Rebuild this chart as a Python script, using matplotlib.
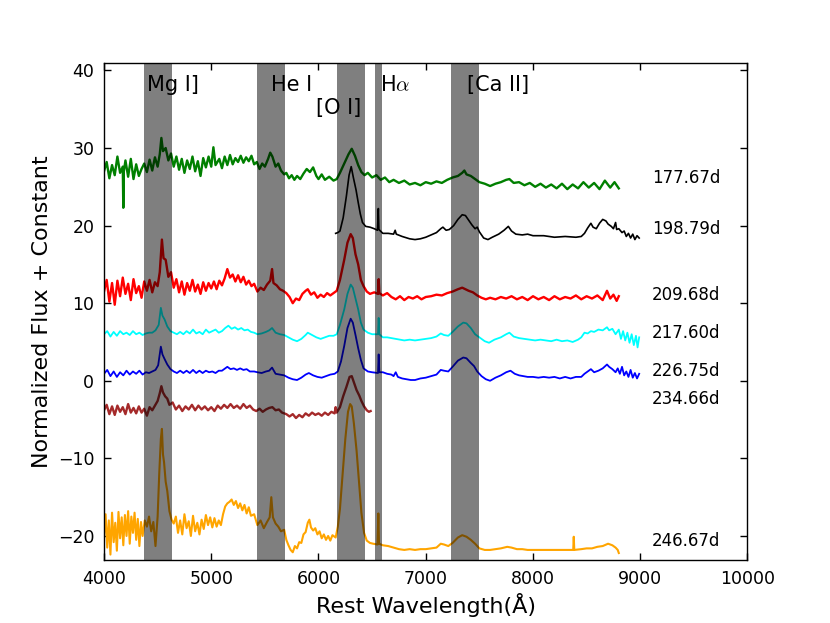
import numpy as np
import matplotlib
matplotlib.use('Agg')
import matplotlib.pyplot as plt

plt.rcParams['mathtext.fontset'] = 'cm'

# spectra (rest wavelength in A, normalized flux + offset)
w177 = [4000, 4025, 4050, 4075, 4100, 4125, 4150, 4175, 4180, 4185, 4200, 4225, 4250, 4275, 4300, 4325, 4350, 4375,
        4400, 4425, 4450, 4475, 4500, 4520, 4535, 4550, 4575, 4600, 4625, 4650, 4675, 4700, 4725, 4750, 4775, 4800,
        4825, 4850, 4875, 4900, 4925, 4950, 4975, 5000, 5020, 5040, 5075, 5100, 5125, 5150, 5175, 5200, 5225, 5250,
        5275, 5300, 5325, 5350, 5375, 5400, 5425, 5450, 5475, 5500, 5530, 5550, 5570, 5600, 5625, 5650, 5680, 5700,
        5725, 5750, 5775, 5800, 5830, 5860, 5890, 5920, 5950, 5980, 6000, 6030, 6060, 6100, 6140, 6170, 6200, 6240,
        6280, 6310, 6340, 6370, 6400, 6430, 6460, 6500, 6540, 6580, 6620, 6660, 6700, 6750, 6800, 6850, 6900, 6950,
        7000, 7050, 7100, 7150, 7200, 7250, 7300, 7340, 7360, 7380, 7420, 7460, 7500, 7550, 7600, 7650, 7700, 7750,
        7780, 7820, 7870, 7920, 7970, 8020, 8070, 8120, 8170, 8220, 8270, 8320, 8370, 8420, 8470, 8520, 8570, 8620,
        8670, 8720, 8760, 8800]
f177 = [27.0, 28.2, 26.1, 27.8, 26.5, 28.9, 26.8, 27.6, 22.3, 27.0, 28.4, 26.3, 28.6, 26.0, 27.9, 26.4, 27.3, 28.0,
        26.9, 28.5, 27.1, 28.8, 27.6, 29.2, 31.3, 29.6, 30.0, 28.4, 29.3, 27.6, 28.9, 27.2, 28.6, 26.8, 28.4, 27.3,
        28.9, 27.0, 28.3, 26.4, 28.7, 27.5, 28.9, 27.6, 30.1, 27.8, 28.6, 27.4, 28.9, 27.8, 29.1, 27.9, 28.7, 28.2,
        29.0, 28.1, 28.8, 28.3, 29.0, 27.9, 28.2, 27.3, 28.0, 27.6, 28.6, 29.4, 28.9, 27.6, 28.0, 27.1, 26.6, 26.8,
        26.1, 26.5, 25.9, 26.4, 26.0, 26.7, 27.3, 26.9, 27.5, 26.4, 26.0, 26.6, 25.9, 26.3, 25.8, 26.0, 26.8, 28.0,
        29.2, 29.9, 29.0, 27.8, 26.9, 26.5, 26.8, 26.2, 26.5, 25.9, 26.2, 25.6, 25.9, 25.5, 25.8, 25.3, 25.5, 25.2,
        25.6, 25.4, 25.7, 25.5, 25.9, 26.2, 26.4, 26.8, 27.1, 26.6, 26.4, 26.0, 25.6, 25.4, 25.1, 25.4, 25.6, 25.9,
        26.0, 25.5, 25.6, 25.2, 25.5, 25.0, 25.4, 24.9, 25.3, 24.8, 25.4, 24.7, 25.3, 24.8, 25.6, 24.9, 25.5, 24.7,
        25.8, 24.9, 25.6, 24.8]

w198 = [6160, 6180, 6200, 6230, 6260, 6285, 6305, 6325, 6350, 6370, 6390, 6410, 6440, 6480, 6520, 6550, 6558, 6563,
        6600, 6650, 6700, 6715, 6725, 6780, 6850, 6900, 6950, 7000, 7050, 7100, 7140, 7160, 7190, 7220, 7260, 7300,
        7340, 7370, 7400, 7430, 7460, 7480, 7500, 7540, 7580, 7620, 7680, 7730, 7770, 7800, 7840, 7900, 7950, 8000,
        8100, 8200, 8300, 8400, 8450, 8480, 8510, 8540, 8560, 8590, 8620, 8650, 8680, 8700, 8730, 8750, 8770, 8780,
        8800, 8830, 8850, 8870, 8890, 8910, 8930, 8950, 8970, 8990]
f198 = [19.0, 19.1, 19.3, 21.0, 23.8, 26.5, 27.6, 26.2, 24.6, 23.0, 21.5, 20.4, 19.9, 19.8, 19.6, 19.4, 22.2, 19.5,
        19.0, 19.0, 18.9, 19.4, 18.9, 18.6, 18.3, 18.2, 18.3, 18.5, 18.8, 19.1, 19.6, 19.8, 19.4, 19.5, 20.0, 20.8,
        21.4, 21.3, 20.7, 20.1, 19.6, 19.8, 19.2, 18.4, 18.2, 18.5, 18.9, 19.4, 19.9, 19.3, 18.9, 18.8, 18.9, 18.7,
        18.7, 18.5, 18.6, 18.5, 18.6, 19.0, 19.7, 20.3, 19.8, 19.6, 20.3, 20.8, 20.6, 20.2, 19.9, 19.6, 20.4, 19.5,
        19.6, 19.1, 19.3, 18.6, 19.0, 18.4, 18.9, 18.2, 18.7, 18.4]

w209 = [4000, 4025, 4050, 4075, 4100, 4125, 4150, 4175, 4200, 4225, 4250, 4275, 4300, 4325, 4350, 4375, 4400, 4425,
        4450, 4475, 4500, 4520, 4540, 4555, 4575, 4600, 4625, 4650, 4675, 4700, 4725, 4750, 4775, 4800, 4825, 4850,
        4875, 4900, 4925, 4950, 4975, 5000, 5025, 5050, 5075, 5100, 5125, 5150, 5175, 5200, 5225, 5250, 5275, 5300,
        5325, 5350, 5375, 5400, 5430, 5460, 5490, 5520, 5550, 5567, 5580, 5610, 5640, 5670, 5700, 5730, 5760, 5790,
        5820, 5850, 5880, 5900, 5930, 5960, 5990, 6020, 6050, 6080, 6110, 6140, 6170, 6200, 6240, 6270, 6300, 6320,
        6345, 6370, 6395, 6420, 6450, 6480, 6520, 6555, 6561, 6567, 6600, 6640, 6680, 6720, 6760, 6800, 6840, 6880,
        6920, 6960, 7000, 7050, 7100, 7150, 7200, 7250, 7300, 7340, 7370, 7400, 7440, 7480, 7520, 7560, 7600, 7650,
        7700, 7750, 7800, 7850, 7900, 7950, 8000, 8050, 8100, 8150, 8200, 8250, 8300, 8350, 8400, 8450, 8500, 8550,
        8600, 8650, 8690, 8720, 8750, 8780, 8800]
f209 = [11.5, 13.0, 10.2, 12.6, 9.8, 12.9, 10.9, 13.3, 11.2, 12.5, 10.4, 13.1, 11.3, 12.2, 10.7, 12.8, 11.6, 13.0,
        11.4, 12.7, 12.2, 14.0, 18.2, 15.8, 15.6, 13.4, 14.0, 12.0, 13.1, 11.4, 12.8, 11.1, 12.6, 11.6, 13.0, 11.5,
        12.4, 11.2, 12.7, 11.6, 12.6, 11.9, 12.8, 11.8, 12.9, 12.3, 13.2, 14.4, 13.3, 13.7, 12.8, 13.6, 12.7, 13.4,
        12.4, 12.9, 12.2, 12.5, 11.5, 12.0, 11.7, 12.4, 12.9, 14.4, 12.6, 12.3, 11.8, 11.6, 11.3, 10.8, 10.0, 10.6,
        10.4, 11.2, 11.6, 11.8, 11.1, 11.4, 10.7, 11.1, 10.8, 11.3, 11.0, 11.3, 11.6, 13.0, 15.6, 17.8, 18.9, 18.4,
        16.3, 15.0, 13.0, 12.2, 11.5, 11.2, 11.4, 11.2, 13.1, 11.3, 11.0, 11.3, 10.8, 10.5, 10.9, 10.4, 10.8, 10.6,
        10.9, 10.5, 10.8, 10.9, 11.1, 11.0, 11.3, 11.5, 11.8, 12.0, 11.8, 11.6, 11.4, 11.0, 10.7, 10.5, 10.7, 10.5,
        10.8, 10.6, 10.9, 10.5, 10.8, 10.4, 10.9, 10.5, 10.8, 10.4, 10.9, 10.5, 10.8, 10.6, 11.0, 10.5, 10.9, 10.6,
        11.0, 10.4, 11.6, 10.6, 11.1, 10.3, 10.9]

w217 = [4000, 4030, 4060, 4090, 4120, 4150, 4180, 4210, 4240, 4270, 4300, 4330, 4360, 4390, 4420, 4450, 4480, 4510,
        4530, 4545, 4565, 4590, 4620, 4650, 4680, 4710, 4740, 4770, 4800, 4830, 4860, 4890, 4920, 4950, 4980, 5010,
        5040, 5070, 5100, 5130, 5160, 5190, 5220, 5250, 5280, 5310, 5340, 5370, 5400, 5430, 5470, 5510, 5540, 5567,
        5600, 5640, 5680, 5720, 5760, 5800, 5840, 5880, 5900, 5940, 5980, 6020, 6060, 6100, 6140, 6170, 6200, 6240,
        6270, 6300, 6320, 6345, 6370, 6395, 6420, 6460, 6500, 6555, 6561, 6567, 6600, 6640, 6680, 6720, 6760, 6800,
        6850, 6900, 6950, 7000, 7050, 7100, 7140, 7170, 7210, 7250, 7300, 7350, 7380, 7420, 7460, 7500, 7550, 7590,
        7640, 7700, 7750, 7780, 7820, 7870, 7920, 7970, 8020, 8070, 8120, 8170, 8220, 8270, 8320, 8370, 8420, 8450,
        8480, 8510, 8540, 8570, 8610, 8650, 8690, 8710, 8740, 8770, 8800, 8820, 8840, 8860, 8880, 8900, 8920, 8940,
        8960, 8975, 8990]
f217 = [6.0, 6.4, 5.7, 6.3, 5.8, 6.4, 6.0, 6.2, 5.9, 6.4, 6.0, 6.2, 5.9, 6.1, 6.2, 6.2, 6.5, 7.2,
        9.4, 8.4, 7.9, 7.0, 6.4, 6.2, 6.0, 6.3, 6.0, 6.4, 6.1, 6.6, 6.1, 6.3, 6.0, 6.6, 6.2, 6.4,
        6.6, 6.2, 6.4, 6.8, 7.1, 6.7, 6.9, 6.6, 6.8, 6.5, 6.6, 6.3, 6.2, 6.0, 6.1, 6.3, 6.5, 6.8,
        6.2, 6.0, 5.9, 5.6, 5.3, 5.1, 5.4, 5.9, 6.2, 5.9, 5.6, 5.4, 5.6, 5.8, 5.8, 6.0, 7.2, 9.2,
        11.2, 12.4, 12.0, 10.6, 9.2, 7.5, 6.6, 6.2, 6.0, 6.0, 8.1, 6.0, 5.6, 5.6, 5.5, 5.4, 5.3, 5.2,
        5.3, 5.2, 5.3, 5.4, 5.5, 5.7, 6.1, 5.9, 5.8, 6.3, 7.0, 7.5, 7.4, 6.8, 6.0, 5.6, 5.1, 4.9,
        5.3, 5.6, 6.0, 6.2, 5.7, 5.5, 5.4, 5.3, 5.2, 5.3, 5.2, 5.1, 5.3, 5.1, 5.2, 5.0, 5.3, 5.6,
        6.2, 6.1, 6.4, 6.3, 6.6, 6.5, 6.9, 6.5, 6.7, 6.0, 6.6, 5.4, 6.4, 5.2, 6.2, 4.9, 6.0, 4.6,
        5.8, 4.3, 5.6]

w226 = [4000, 4030, 4060, 4090, 4120, 4150, 4180, 4210, 4240, 4270, 4300, 4330, 4360, 4390, 4420, 4450, 4480, 4505,
        4530, 4545, 4565, 4590, 4620, 4650, 4680, 4710, 4740, 4770, 4800, 4830, 4860, 4890, 4920, 4950, 4980, 5010,
        5040, 5070, 5100, 5130, 5150, 5180, 5210, 5240, 5270, 5300, 5330, 5360, 5400, 5430, 5470, 5510, 5540, 5567,
        5600, 5640, 5680, 5720, 5760, 5800, 5840, 5880, 5910, 5950, 5990, 6030, 6070, 6110, 6150, 6180, 6210, 6240,
        6270, 6300, 6320, 6345, 6370, 6395, 6420, 6460, 6500, 6555, 6561, 6567, 6600, 6640, 6680, 6700, 6720, 6740,
        6780, 6820, 6860, 6900, 6950, 7000, 7050, 7100, 7140, 7170, 7210, 7250, 7300, 7350, 7380, 7420, 7450, 7480,
        7520, 7560, 7600, 7650, 7700, 7750, 7790, 7830, 7870, 7910, 7950, 8000, 8050, 8100, 8150, 8200, 8250, 8300,
        8350, 8400, 8450, 8480, 8510, 8540, 8570, 8610, 8650, 8690, 8710, 8740, 8770, 8790, 8810, 8830, 8850, 8870,
        8890, 8910, 8930, 8950, 8970, 8990]
f226 = [0.9, 1.4, 0.6, 1.2, 0.5, 1.1, 0.7, 1.3, 0.8, 1.2, 0.9, 1.3, 0.8, 1.1, 1.0, 1.2, 1.4, 2.0,
        4.4, 3.4, 2.8, 2.1, 1.5, 1.2, 1.0, 1.3, 1.0, 1.3, 1.0, 1.4, 1.0, 1.3, 1.0, 1.3, 1.1, 1.2,
        1.0, 1.3, 1.3, 1.6, 1.8, 1.5, 1.6, 1.4, 1.6, 1.4, 1.5, 1.2, 1.2, 1.1, 1.0, 1.2, 1.3, 1.7,
        0.9, 0.8, 0.7, 0.4, 0.2, 0.1, 0.4, 0.8, 1.0, 0.7, 0.5, 0.4, 0.6, 0.8, 0.9, 1.2, 2.5, 4.5,
        6.8, 8.0, 7.5, 5.9, 4.2, 2.7, 1.6, 1.2, 1.1, 1.0, 3.4, 1.1, 1.1, 0.9, 0.8, 0.6, 1.1, 0.5,
        0.3, 0.2, 0.1, 0.1, 0.3, 0.4, 0.6, 0.8, 1.4, 1.3, 1.2, 1.8, 2.6, 3.0, 2.9, 2.3, 1.9, 1.2,
        0.6, 0.2, 0.0, 0.4, 0.7, 1.1, 1.3, 0.9, 0.7, 0.6, 0.5, 0.5, 0.4, 0.5, 0.4, 0.5, 0.3, 0.5,
        0.3, 0.5, 0.5, 0.9, 1.2, 1.5, 1.1, 1.3, 1.6, 2.1, 1.8, 1.5, 1.1, 1.6, 0.9, 1.8, 0.7, 1.2,
        0.5, 1.4, 0.4, 1.0, 0.3, 0.9]

w234 = [4000, 4025, 4050, 4075, 4100, 4125, 4150, 4175, 4200, 4225, 4250, 4275, 4300, 4325, 4350, 4375, 4400, 4425,
        4450, 4475, 4500, 4520, 4535, 4550, 4570, 4590, 4610, 4640, 4670, 4700, 4730, 4760, 4790, 4820, 4850, 4880,
        4910, 4940, 4970, 5000, 5030, 5060, 5090, 5120, 5150, 5180, 5210, 5240, 5270, 5300, 5330, 5360, 5390, 5420,
        5450, 5480, 5510, 5540, 5570, 5600, 5630, 5660, 5700, 5730, 5760, 5790, 5820, 5850, 5880, 5910, 5940, 5970,
        6000, 6030, 6060, 6090, 6120, 6150, 6160, 6170, 6200, 6230, 6260, 6290, 6310, 6330, 6355, 6380, 6400, 6425,
        6450, 6470, 6486]
f234 = [-3.8, -3.1, -4.3, -3.3, -4.4, -3.2, -4.0, -3.4, -4.3, -3.0, -4.1, -3.5, -4.2, -3.3, -4.1, -3.6, -4.5, -3.4,
        -3.8, -3.2, -2.6, -1.6, -0.7, -1.5, -2.0, -2.3, -3.1, -2.8, -3.7, -3.2, -3.9, -3.3, -3.7, -3.1, -3.8, -3.2,
        -3.7, -3.3, -3.8, -3.4, -3.9, -3.2, -3.6, -3.1, -3.5, -3.0, -3.5, -3.2, -3.6, -3.0, -3.5, -3.2, -3.7, -3.9,
        -3.6, -4.0, -3.7, -3.5, -3.4, -3.8, -3.7, -4.1, -4.3, -4.6, -4.3, -4.8, -4.4, -4.7, -4.2, -4.5, -4.1, -4.4,
        -4.2, -4.5, -4.1, -4.4, -4.0, -4.2, -3.4, -4.1, -3.4, -2.0, -0.8, 0.5, 0.6, -0.2, -1.2, -1.9, -2.6, -3.3,
        -3.8, -4.0, -3.9]

w246 = [4000, 4015, 4030, 4045, 4060, 4075, 4090, 4105, 4120, 4135, 4150, 4165, 4180, 4195, 4210, 4225, 4240, 4255,
        4270, 4285, 4300, 4315, 4330, 4345, 4360, 4380, 4400, 4420, 4440, 4460, 4480, 4500, 4515, 4530, 4540, 4550,
        4560, 4575, 4590, 4610, 4630, 4650, 4670, 4690, 4710, 4730, 4750, 4770, 4790, 4810, 4830, 4850, 4870, 4890,
        4910, 4930, 4950, 4970, 4990, 5010, 5030, 5050, 5070, 5090, 5110, 5130, 5150, 5170, 5190, 5210, 5230, 5250,
        5270, 5290, 5310, 5330, 5350, 5370, 5400, 5430, 5460, 5490, 5520, 5545, 5560, 5575, 5600, 5625, 5650, 5680,
        5700, 5720, 5740, 5760, 5780, 5800, 5820, 5840, 5860, 5880, 5900, 5915, 5930, 5950, 5970, 5990, 6010, 6030,
        6050, 6070, 6090, 6110, 6130, 6160, 6180, 6200, 6225, 6250, 6275, 6295, 6310, 6330, 6355, 6375, 6400, 6425,
        6450, 6480, 6510, 6550, 6558, 6564, 6600, 6650, 6700, 6750, 6800, 6850, 6900, 6950, 7000, 7050, 7100, 7140,
        7170, 7210, 7250, 7300, 7340, 7380, 7420, 7460, 7500, 7550, 7600, 7650, 7700, 7760, 7800, 7850, 7900, 7950,
        8000, 8100, 8200, 8300, 8375, 8380, 8385, 8450, 8500, 8550, 8600, 8650, 8700, 8740, 8770, 8790, 8800]
f246 = [-20.1, -17.2, -21.5, -18.0, -22.4, -17.0, -20.8, -18.3, -21.9, -16.9, -20.3, -17.6, -21.2, -17.3, -20.0, -16.8,
        -21.0, -17.5, -19.6, -17.0, -20.5, -17.8, -21.3, -18.2, -20.0, -18.0, -18.8, -17.5, -19.4, -18.2, -21.3, -17.5,
        -12.0, -7.5, -6.2, -9.5, -10.5, -13.0, -14.2, -16.8, -17.9, -18.4, -17.5, -19.6, -18.0, -19.8, -17.2, -19.0,
        -18.1, -20.0, -17.4, -19.4, -18.3, -19.8, -17.9, -19.1, -17.3, -18.6, -17.6, -18.9, -17.7, -18.8, -18.0, -18.6,
        -17.2, -16.2, -15.8, -15.6, -15.3, -16.0, -15.5, -16.4, -15.8, -16.7, -16.0, -17.1, -16.3, -17.4, -17.2, -18.6,
        -18.0, -19.0, -18.2, -17.6, -15.0, -17.6, -18.4, -18.8, -19.4, -19.2, -20.5, -21.2, -21.8, -22.1, -21.3, -21.6,
        -20.8, -20.9, -19.8, -19.5, -18.3, -17.9, -18.9, -19.3, -19.0, -19.8, -19.4, -20.3, -19.8, -20.5, -20.0, -20.6,
        -19.9, -20.2, -18.8, -16.5, -12.0, -7.5, -4.0, -3.0, -3.3, -5.5, -9.0, -12.5, -17.0, -19.6, -20.6, -20.9,
        -21.0, -21.1, -17.1, -21.0, -21.2, -21.3, -21.5, -21.7, -21.8, -21.7, -21.8, -21.7, -21.7, -21.6, -21.5, -21.0,
        -21.1, -21.3, -20.9, -20.2, -19.9, -20.1, -20.5, -21.0, -21.6, -21.8, -21.8, -21.7, -21.6, -21.4, -21.5, -21.7,
        -21.7, -21.8, -21.8, -21.8, -21.8, -21.8, -21.8, -20.1, -21.8, -21.7, -21.6, -21.6, -21.4, -21.3, -21.0, -21.2,
        -21.5, -21.8, -22.2]

# (wavelength, flux, colour, epoch label, label height, line width)
spectra = [(w177, f177, 'green', '177.67d', 26.2, 1.7),
           (w198, f198, 'black', '198.79d', 19.5, 1.2),
           (w209, f209, 'red', '209.68d', 11.1, 1.7),
           (w217, f217, 'cyan', '217.60d', 6.2, 1.3),
           (w226, f226, 'blue', '226.75d', 1.2, 1.3),
           (w234, f234, 'brown', '234.66d', -2.4, 1.7),
           (w246, f246, 'orange', '246.67d', -20.7, 1.5)]

# line regions (shaded) and their labels
bands = [(4370, 4630), (5425, 5690), (6170, 6430), (6525, 6595), (7235, 7495)]
line_names = ['Mg I]', 'He I', '[O I]', r'H$\alpha$', '[Ca II]']
line_x = [4400, 5560, 5980, 6570, 7380]
line_y = [38.1, 38.1, 35.1, 38.1, 38.1]

fig = plt.figure(figsize=(8.3, 6.23), dpi=100)
ax = fig.add_axes([0.1253, 0.1011, 0.7753, 0.7983])

for w, f, c, lab, ypos, lw in spectra:
    ax.plot(w, f, color=c, lw=lw, zorder=2)
    ax.text(9110, ypos, lab, fontsize=12, ha='left', va='center')

for (lo, hi) in bands:
    ax.axvspan(lo, hi, color='k', alpha=0.5, lw=0, zorder=3)

for name, x, y in zip(line_names, line_x, line_y):
    ax.text(x, y, name, fontsize=15, ha='left', va='center')

ax.set_xlim(4000, 10000)
ax.set_ylim(-23.1, 41.0)
ax.set_xticks([4000, 5000, 6000, 7000, 8000, 9000, 10000])
ax.set_yticks([-20, -10, 0, 10, 20, 30, 40])
ax.tick_params(direction='in', top=True, right=True, labelsize=12.5, length=5, width=1, pad=7)
ax.set_xlabel('Rest Wavelength(Å)', fontsize=16)
ax.set_ylabel('Normalized Flux + Constant', fontsize=16)
for s in ax.spines.values():
    s.set_linewidth(1.0)

fig.savefig('out.png', dpi=100, facecolor='white')
